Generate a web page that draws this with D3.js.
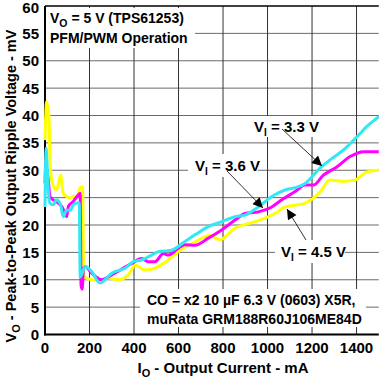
<!DOCTYPE html>
<html><head><meta charset="utf-8">
<script src="https://cdn.jsdelivr.net/npm/d3@7"></script>
<style>
html,body{margin:0;padding:0;background:#fff;}
svg{display:block;font-family:"Liberation Sans",Arial,sans-serif;font-weight:bold;}
</style></head>
<body>
<svg id="chart" width="379" height="384"></svg>
<script>
// ---- data ----
const xTicks = [0,200,400,600,800,1000,1200,1400];
const yTicks = [0,5,10,15,20,25,30,35,40,45,50,55,60];

const currentVI33 = [0,5,10,15,22,37,52,70,82,97,115,127,145,154,158,165,180,210,247,270,300,360,397,434,470,510,569,629,674,734,794,854,899,959,1019,1079,1124,1169,1236,1281,1341,1416,1446,1491,1500];
const rippleVI33  = [23.3,34,30.6,26.4,24,23.7,24.6,23.7,21.5,22.7,22.7,23.7,24,24,10.5,11,12.4,11.5,9.4,10,11.2,12.1,13.3,13.6,14.3,15.1,15.4,17.0,18.2,19.7,20.6,21.5,21.8,23.3,25.2,26.4,26.8,27.6,30.4,31.9,33.7,36.7,38,39.5,39.8];

const currentVI36 = [0,4,8,15,22,37,60,75,90,97,105,127,150,158,162,167,173,180,210,255,300,390,434,464,494,532,554,607,629,674,734,794,854,899,959,1019,1064,1124,1169,1206,1251,1311,1371,1431,1500];
const rippleVI36  = [27.6,32,30,28.2,25.2,24.6,24,23.4,22.1,21.5,23.4,24.3,25.5,25.8,9,8.3,12.1,12.4,11.2,10,10.9,13,13.9,13.3,13.3,14.8,14.5,16,16.4,16.3,17.6,19.1,20.9,22.1,22.4,23.3,24.6,26.1,27.3,27.3,29.1,30.6,32.5,33.4,33.4];

const currentVI45 = [0,7,18,22,30,52,70,82,97,115,127,142,157,169,174,210,255,285,330,375,405,449,494,554,607,674,740,786,854,944,1034,1079,1124,1169,1236,1281,1341,1393,1446,1500];
const rippleVI45  = [35.5,42.5,39.8,32.5,28.2,26.4,29.1,25.8,25.2,24.9,25.3,24.9,26.7,27,10.6,10,9.9,10.3,10,10.9,12.7,11.8,12.1,13.6,15.4,16.9,18.1,17.3,19.4,20.6,22.1,23.3,23.6,24,26,28.2,28,28.2,29.7,30];

const seriesNames = ["VI = 4.5 V","VI = 3.6 V","VI = 3.3 V"];
const seriesColors = ["#ffff00","#ff00ff","#33e8f5"];

// ---- chart ----
const svg = d3.select("#chart");
const x = d3.scaleLinear().domain([0,1500]).range([45,378.8]);
const y = d3.scaleLinear().domain([0,60]).range([334.5,6]);

// grid
svg.append("g").selectAll("line").data(yTicks.filter(d=>d>0&&d<60)).join("line")
  .attr("x1",x(0)).attr("x2",x(1500)).attr("y1",d=>y(d)).attr("y2",d=>y(d))
  .attr("stroke","#6a6a6a").attr("stroke-width",1);
svg.append("g").selectAll("line").data(xTicks.filter(d=>d>0)).join("line")
  .attr("x1",d=>x(d)).attr("x2",d=>x(d)).attr("y1",y(0)).attr("y2",y(60))
  .attr("stroke","#333").attr("stroke-width",1);

// white boxes behind texts
const boxes = [
  [45,8,186,27],[45,27,195,48],
  [246,116,318,137],[188,154,258,177],[275,240,345,263],
  [140,289,366,327]
];
svg.append("g").selectAll("rect").data(boxes).join("rect")
  .attr("x",d=>d[0]).attr("y",d=>d[1]).attr("width",d=>d[2]-d[0]).attr("height",d=>d[3]-d[1])
  .attr("fill","#fff");

// frame
svg.append("line").attr("x1",x(0)).attr("x2",x(1500)).attr("y1",y(60)).attr("y2",y(60)).attr("stroke","#000").attr("stroke-width",1.5);
svg.append("line").attr("x1",x(0)).attr("x2",x(0)).attr("y1",y(60)).attr("y2",y(0)+1).attr("stroke","#000").attr("stroke-width",2);
svg.append("line").attr("x1",x(0)-1).attr("x2",x(1500)).attr("y1",y(0)).attr("y2",y(0)).attr("stroke","#000").attr("stroke-width",2);

// curves
const line = d3.line().x(d=>x(d[0])).y(d=>y(d[1])).curve(d3.curveMonotoneX);
const series = [
  d3.zip(currentVI45, rippleVI45),
  d3.zip(currentVI36, rippleVI36),
  d3.zip(currentVI33, rippleVI33)
];
svg.append("g").selectAll("path").data(series).join("path")
  .attr("d",line).attr("fill","none")
  .attr("stroke",(d,i)=>seriesColors[i]).attr("stroke-width",3).attr("stroke-linejoin","round");

// tick labels
svg.append("g").selectAll("text").data(yTicks).join("text")
  .attr("x",39).attr("y",d=>Math.max(y(d)+5.5,13)).attr("text-anchor","end")
  .attr("font-size",15).text(d=>d);
svg.append("g").selectAll("text").data(xTicks).join("text")
  .attr("x",d=>x(d)).attr("y",353).attr("text-anchor","middle")
  .attr("font-size",15).text(d=>d);

// axis titles
const xt = svg.append("text").attr("x",223).attr("y",373).attr("text-anchor","middle").attr("font-size",15);
xt.append("tspan").text("I");
xt.append("tspan").attr("font-size",11).attr("dy",4).text("O");
xt.append("tspan").attr("dy",-4).text(" - Output Current - mA");

const yt = svg.append("text").attr("transform","translate(16,186) rotate(-90)").attr("text-anchor","middle").attr("font-size",14.5);
yt.append("tspan").text("V");
yt.append("tspan").attr("font-size",11).attr("dy",4).text("O");
yt.append("tspan").attr("dy",-4).text(" - Peak-to-Peak Output Ripple Voltage - mV");

// annotations
const t1 = svg.append("text").attr("x",50).attr("y",23).attr("font-size",14);
t1.append("tspan").text("V");
t1.append("tspan").attr("font-size",10.5).attr("dy",4).text("O");
t1.append("tspan").attr("dy",-4).text(" = 5 V (TPS61253)");
svg.append("text").attr("x",50).attr("y",43).attr("font-size",14).text("PFM/PWM Operation");

svg.append("text").attr("x",147).attr("y",305).attr("font-size",14).text("CO = x2 10 \u00b5F 6.3 V (0603) X5R,");
svg.append("text").attr("x",147).attr("y",324).attr("font-size",14).text("muRata GRM188R60J106ME84D");

// series labels with arrows
const defs = svg.append("defs");
defs.append("marker").attr("id","ah").attr("viewBox","0 0 10 10").attr("refX",10).attr("refY",5)
  .attr("markerWidth",12).attr("markerHeight",10).attr("markerUnits","userSpaceOnUse").attr("orient","auto")
  .append("path").attr("d","M0,0 L10,5 L0,10 Z").attr("fill","#000");

const labels = [
  {name:seriesNames[2], tx:254, ty:132, ax:[282,129], at:[322,166]},
  {name:seriesNames[1], tx:195, ty:171, ax:[227,171], at:[263,208]},
  {name:seriesNames[0], tx:281, ty:257, ax:[306,240], at:[287,209]}
];
labels.forEach(l=>{
  svg.append("line").attr("x1",l.ax[0]).attr("y1",l.ax[1]).attr("x2",l.at[0]).attr("y2",l.at[1])
    .attr("stroke","#000").attr("stroke-width",0.8).attr("marker-end","url(#ah)");
  const t = svg.append("text").attr("x",l.tx).attr("y",l.ty).attr("font-size",15);
  t.append("tspan").text("V");
  t.append("tspan").attr("font-size",10).attr("dy",4).text("I");
  t.append("tspan").attr("dy",-4).text(l.name.slice(2));
});
</script>
</body></html>
